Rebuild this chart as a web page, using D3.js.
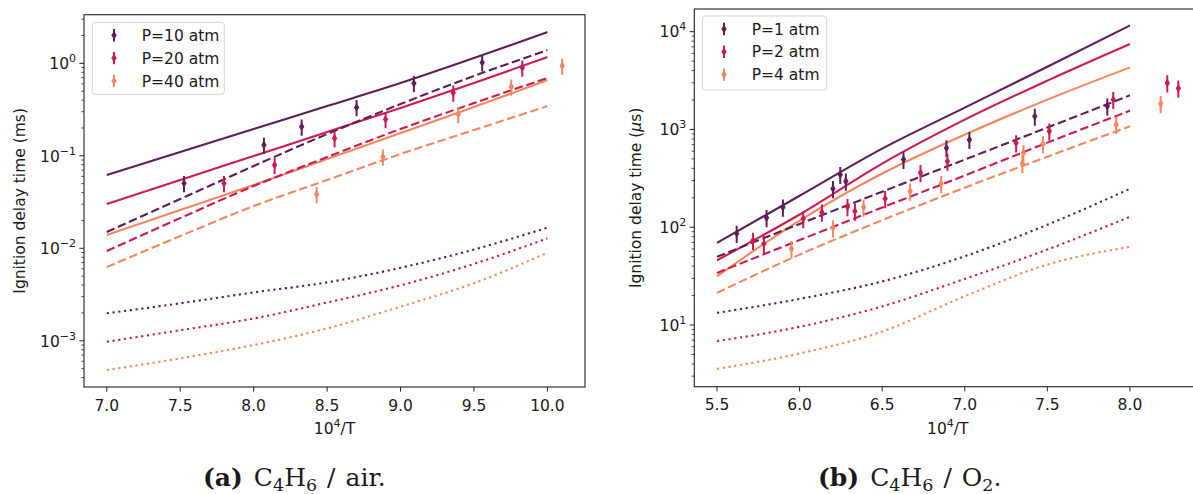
<!DOCTYPE html>
<html><head><meta charset="utf-8">
<script src="https://cdn.jsdelivr.net/npm/d3@7"></script>
<style>
body{margin:0;background:#fff;}
svg text{font-family:"DejaVu Sans",sans-serif;fill:#1a1a1a;}
svg text.cap{font-family:"DejaVu Serif",serif;}
</style></head>
<body><svg id="c" width="1193" height="494"></svg>
<script>
// ---------- Panel (a): C4H6 / air ----------
const modelXA = [7.0, 7.5, 8.0, 8.5, 9.0, 9.5, 10.0];
const a_solid_P10  = [0.0619, 0.110, 0.195, 0.345, 0.612, 1.14, 2.18];
const a_solid_P20  = [0.0301, 0.0547, 0.0995, 0.181, 0.329, 0.612, 1.17];
const a_solid_P40  = [0.0139, 0.0259, 0.0483, 0.0923, 0.176, 0.337, 0.66];
const a_dash_P10   = [0.0150, 0.0341, 0.0776, 0.172, 0.363, 0.730, 1.39];
const a_dash_P20   = [0.00933, 0.0212, 0.0471, 0.0970, 0.195, 0.372, 0.693];
const a_dash_P40   = [0.00626, 0.01355, 0.0286, 0.0547, 0.1045, 0.190, 0.345];
const a_dot_P10    = [0.00198, 0.00254, 0.00333, 0.00428, 0.00615, 0.00970, 0.0167];
const a_dot_P20    = [0.000976, 0.00130, 0.00174, 0.00259, 0.00398, 0.00678, 0.0128];
const a_dot_P40    = [0.000482, 0.000645, 0.000900, 0.00136, 0.00234, 0.00419, 0.00895];

const a_exp_P10_x = [7.526, 8.070, 8.327, 8.701, 9.091, 9.556];
const a_exp_P10_y = [0.0504, 0.131, 0.206, 0.334, 0.608, 1.02];
const a_exp_P20_x = [7.798, 8.143, 8.551, 8.898, 9.359, 9.829];
const a_exp_P20_y = [0.0504, 0.0795, 0.155, 0.248, 0.481, 0.896];
const a_exp_P40_x = [8.429, 8.880, 9.393, 9.754, 10.101];
const a_exp_P40_y = [0.0383, 0.0977, 0.281, 0.558, 0.942];
const a_legend = ["P=10 atm", "P=20 atm", "P=40 atm"];
const a_xticks = [7.0, 7.5, 8.0, 8.5, 9.0, 9.5, 10.0];
const a_ydecades = [-3, -2, -1, 0];

// ---------- Panel (b): C4H6 / O2 ----------
const modelXB = [5.5, 6.0, 6.5, 7.0, 7.5, 8.0];
const b_solid_P1 = [69.2, 210, 637, 1671, 4385, 11590];
const b_solid_P2 = [45.9, 135, 448, 1259, 3155, 7480];
const b_solid_P4 = [31.5, 117, 354, 885, 2018, 4315];
const b_dash_P1  = [49.8, 108, 231, 492, 1045, 2234];
const b_dash_P2  = [34.1, 73.9, 159, 338, 733, 1556];
const b_dash_P4  = [21.3, 52.5, 118, 254, 527, 1077];
const b_dot_P1   = [13.3, 18.5, 27.9, 50.5, 106, 247];
const b_dot_P2   = [6.83, 9.59, 15.5, 29.6, 59.1, 128];
const b_dot_P4   = [3.56, 5.11, 8.58, 19.7, 41.5, 63.0];

const b_exp_P1_x = [5.619, 5.800, 5.899, 6.202, 6.246, 6.280, 6.629, 6.889, 7.028, 7.424, 7.863];
const b_exp_P1_y = [86.1, 125, 160, 248, 345, 295, 492, 648, 787, 1361, 1726];
const b_exp_P2_x = [5.718, 5.784, 6.022, 6.135, 6.290, 6.335, 6.518, 6.732, 6.895, 7.311, 7.512, 7.899, 8.226, 8.293];
const b_exp_P2_y = [73.1, 67.6, 122, 142, 162, 146, 196, 360, 472, 728, 957, 2018, 2985, 2636];
const b_exp_P4_x = [5.951, 6.202, 6.387, 6.669, 6.857, 7.349, 7.355, 7.474, 7.917, 8.186];
const b_exp_P4_y = [60.1, 98.4, 160, 233, 279, 448, 576, 712, 1120, 1836];
const b_legend = ["P=1 atm", "P=2 atm", "P=4 atm"];
const b_xticks = [5.5, 6.0, 6.5, 7.0, 7.5, 8.0];
const b_ydecades = [1, 2, 3, 4];

const colors = ["#5f1e57", "#cb1b4f", "#f4875e"];
const relErr = 0.2;

const svg = d3.select("#c");
const FS = 15.5;

function panel(cfg) {
  const {x, y, id} = cfg;
  const [x0, x1] = x.range();
  const [yb, yt] = y.range();
  const g = svg.append("g");
  g.append("clipPath").attr("id", id).append("rect")
    .attr("x", x0).attr("y", yt).attr("width", x1 - x0).attr("height", yb - yt);
  const plot = g.append("g").attr("clip-path", `url(#${id})`);
  const line = d3.line().x(d => x(d[0])).y(d => y(d[1])).curve(d3.curveMonotoneX);
  const styles = [
    {key: "solid", dash: null},
    {key: "dash", dash: "8.5,3.7"},
    {key: "dot", dash: "2.2,3.6"}
  ];
  styles.forEach(st => {
    cfg.models[st.key].forEach((vals, i) => {
      plot.append("path")
        .datum(cfg.modelX.map((xv, j) => [xv, vals[j]]))
        .attr("d", line).attr("fill", "none")
        .attr("stroke", colors[i]).attr("stroke-width", 2.1)
        .attr("stroke-dasharray", st.dash);
    });
  });
  cfg.exp.forEach((s, i) => {
    s.x.forEach((xv, j) => {
      const v = s.y[j];
      const px = x(xv);
      plot.append("line").attr("x1", px).attr("x2", px)
        .attr("y1", y(v * (1 - relErr))).attr("y2", y(v * (1 + relErr)))
        .attr("stroke", colors[i]).attr("stroke-width", 2);
      plot.append("path").attr("d", "M0,-4.2L2.7,0L0,4.2L-2.7,0Z")
        .attr("transform", `translate(${px},${y(v)})`).attr("fill", colors[i]);
    });
  });
  g.append("rect").attr("x", x0).attr("y", yt).attr("width", x1 - x0).attr("height", yb - yt)
    .attr("fill", "none").attr("stroke", "#222").attr("stroke-width", 1.1);
  cfg.xticks.forEach(t => {
    const px = x(t);
    g.append("line").attr("x1", px).attr("x2", px).attr("y1", yb).attr("y2", yb + 4.7)
      .attr("stroke", "#222").attr("stroke-width", 1);
    g.append("text").attr("x", px).attr("y", yb + 23.5).attr("text-anchor", "middle")
      .attr("font-size", FS).text(t.toFixed(1));
  });
  const [dmin, dmax] = y.domain();
  const eMin = Math.floor(Math.log10(dmin)), eMax = Math.ceil(Math.log10(dmax));
  for (let e = eMin; e <= eMax; e++) {
    for (let m = 1; m <= 9; m++) {
      const v = m * Math.pow(10, e);
      if (v < dmin || v > dmax) continue;
      const py = y(v);
      const major = m === 1;
      g.append("line").attr("x1", x0 - (major ? 4.7 : 2.7)).attr("x2", x0)
        .attr("y1", py).attr("y2", py).attr("stroke", "#222").attr("stroke-width", major ? 1 : 0.8);
    }
  }
  cfg.ydecades.forEach(e => {
    const py = y(Math.pow(10, e));
    const t = g.append("text").attr("x", x0 - 8).attr("y", py + 5.8)
      .attr("text-anchor", "end").attr("font-size", FS);
    t.append("tspan").text("10");
    t.append("tspan").attr("dy", -7).attr("font-size", 11).text(e < 0 ? "\u2212" + (-e) : String(e));
  });
  const xl = g.append("text").attr("x", (x0 + cfg.xLabelRight) / 2).attr("y", yb + 47)
    .attr("text-anchor", "middle").attr("font-size", FS);
  xl.append("tspan").text("10");
  xl.append("tspan").attr("dy", -7).attr("font-size", 11).text("4");
  xl.append("tspan").attr("dy", 7).text("/T");
  const yl = g.append("text").attr("transform", `translate(${cfg.yLabelX},${(yb + yt) / 2}) rotate(-90)`)
    .attr("text-anchor", "middle").attr("font-size", FS);
  yl.append("tspan").text(cfg.yLabelPre);
  if (cfg.yLabelMu) {
    yl.append("tspan").attr("font-style", "italic").text("\u03bc");
    yl.append("tspan").text("s)");
  }
  const L = cfg.legend;
  g.append("rect").attr("x", L.x).attr("y", L.y).attr("width", L.w).attr("height", L.h)
    .attr("rx", 3).attr("fill", "#fff").attr("fill-opacity", 0.8)
    .attr("stroke", "#d5d5d5").attr("stroke-width", 1);
  cfg.legendLabels.forEach((lab, i) => {
    const cy = L.y + 13 + i * 22.8;
    const mx = L.x + 21.7;
    g.append("line").attr("x1", mx).attr("x2", mx).attr("y1", cy - 6.2).attr("y2", cy + 6.2)
      .attr("stroke", colors[i]).attr("stroke-width", 2);
    g.append("path").attr("d", "M0,-4.2L2.7,0L0,4.2L-2.7,0Z")
      .attr("transform", `translate(${mx},${cy})`).attr("fill", colors[i]);
    g.append("text").attr("x", L.x + 49.4).attr("y", cy + 5.6).attr("font-size", FS).text(lab);
  });
}

const xA = d3.scaleLinear().domain([6.845, 10.256]).range([84, 585]);
const yA = d3.scaleLog().domain([Math.pow(10, -3.50), Math.pow(10, 0.526)]).range([387, 14.7]);
panel({
  id: "clipA", x: xA, y: yA, modelX: modelXA,
  models: {
    solid: [a_solid_P10, a_solid_P20, a_solid_P40],
    dash: [a_dash_P10, a_dash_P20, a_dash_P40],
    dot: [a_dot_P10, a_dot_P20, a_dot_P40]
  },
  exp: [{x: a_exp_P10_x, y: a_exp_P10_y}, {x: a_exp_P20_x, y: a_exp_P20_y}, {x: a_exp_P40_x, y: a_exp_P40_y}],
  xticks: a_xticks, ydecades: a_ydecades, xLabelRight: 585,
  yLabelX: 25, yLabelPre: "Ignition delay time (ms)", yLabelMu: false,
  legend: {x: 92.3, y: 22.3, w: 132, h: 72}, legendLabels: a_legend
});

const xB = d3.scaleLinear().domain([5.3625, 8.432]).range([694.3, 1201.3]);
const yB = d3.scaleLog().domain([Math.pow(10, 0.369), Math.pow(10, 4.232)]).range([386.7, 9]);
panel({
  id: "clipB", x: xB, y: yB, modelX: modelXB,
  models: {
    solid: [b_solid_P1, b_solid_P2, b_solid_P4],
    dash: [b_dash_P1, b_dash_P2, b_dash_P4],
    dot: [b_dot_P1, b_dot_P2, b_dot_P4]
  },
  exp: [{x: b_exp_P1_x, y: b_exp_P1_y}, {x: b_exp_P2_x, y: b_exp_P2_y}, {x: b_exp_P4_x, y: b_exp_P4_y}],
  xticks: b_xticks, ydecades: b_ydecades, xLabelRight: 1201.3,
  yLabelX: 641, yLabelPre: "Ignition delay time (", yLabelMu: true,
  legend: {x: 702.3, y: 16, w: 124.4, h: 74}, legendLabels: b_legend
});

// captions
function caption(xp, label, tail, sub2) {
  const t = svg.append("text").attr("class", "cap").attr("x", xp).attr("y", 486)
    .attr("font-size", 25);
  t.append("tspan").attr("font-weight", "bold").text(label);
  t.append("tspan").attr("dx", 11).text("C");
  t.append("tspan").attr("dy", 4.5).attr("font-size", 17.5).text("4");
  t.append("tspan").attr("dy", -4.5).text("H");
  t.append("tspan").attr("dy", 4.5).attr("font-size", 17.5).text("6");
  t.append("tspan").attr("dy", -4.5).attr("dx", 10).text("/");
  t.append("tspan").attr("dx", 10).text(tail);
  if (sub2) {
    t.append("tspan").attr("dy", 4.5).attr("font-size", 17.5).text("2");
    t.append("tspan").attr("dy", -4.5).text(".");
  }
}
caption(203, "(a)", "air.", false);
caption(818, "(b)", "O", true);
</script></body></html>
